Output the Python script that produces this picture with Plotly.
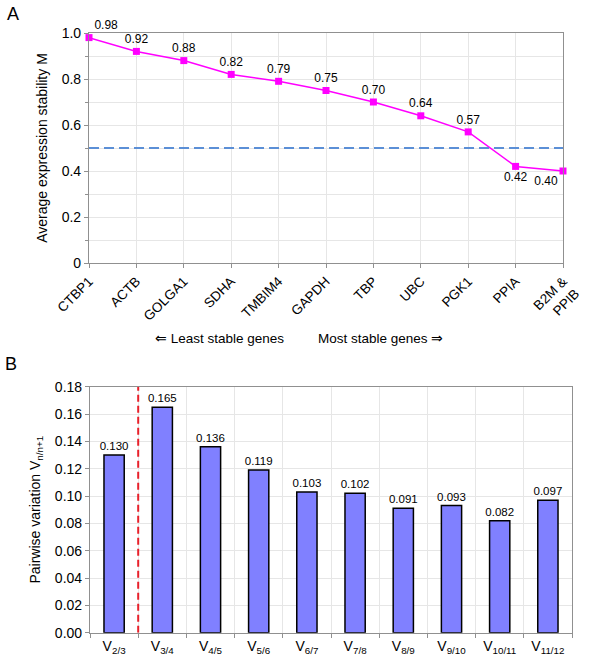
import plotly.graph_objects as go

genes = ["CTBP1", "ACTB", "GOLGA1", "SDHA", "TMBIM4", "GAPDH", "TBP", "UBC", "PGK1", "PPIA", "B2M &<br>PPIB"]
m_values = [0.98, 0.92, 0.88, 0.82, 0.79, 0.75, 0.70, 0.64, 0.57, 0.42, 0.40]
m_threshold = 0.5

pairs = ["V<sub>2/3</sub>", "V<sub>3/4</sub>", "V<sub>4/5</sub>", "V<sub>5/6</sub>", "V<sub>6/7</sub>",
         "V<sub>7/8</sub>", "V<sub>8/9</sub>", "V<sub>9/10</sub>", "V<sub>10/11</sub>", "V<sub>11/12</sub>"]
v_values = [0.130, 0.165, 0.136, 0.119, 0.103, 0.102, 0.091, 0.093, 0.082, 0.097]

FONT = "Liberation Sans, Arial, sans-serif"

fig = go.Figure()

positions = ["top center"] * len(m_values)
positions[0] = "top right"
positions[-2] = "bottom center"
positions[-1] = "bottom left"

fig.add_trace(go.Scatter(
    x=list(range(len(genes))), y=m_values, mode="lines+markers+text",
    line=dict(color="#ff00ff", width=1.5),
    marker=dict(symbol="square", size=7, color="#ff00ff"),
    text=[f"{v:.2f}" for v in m_values], textposition=positions,
    textfont=dict(size=12, color="black", family=FONT),
    cliponaxis=False, xaxis="x", yaxis="y", showlegend=False))

fig.add_trace(go.Scatter(
    x=[0, len(genes) - 1], y=[m_threshold, m_threshold], mode="lines",
    line=dict(color="#5b8fd6", width=2, dash="10px,5px"),
    xaxis="x", yaxis="y", showlegend=False, hoverinfo="skip"))

fig.add_trace(go.Bar(
    x=pairs, y=v_values, width=0.42,
    marker=dict(color="#8080ff", line=dict(color="black", width=1.5)),
    text=[f"{v:.3f}" for v in v_values], textposition="outside", constraintext="none",
    textfont=dict(size=11.5, color="black", family=FONT),
    cliponaxis=False, xaxis="x2", yaxis="y2", showlegend=False))

fig.add_shape(type="line", xref="x2", yref="y2", x0=0.5, x1=0.5, y0=0, y1=0.18,
              line=dict(color="#e8202a", width=2, dash="7px,4px"))

grid = "#e6e6e6"
fig.update_layout(
    width=600, height=662, margin=dict(l=0, r=0, t=0, b=0),
    paper_bgcolor="white", plot_bgcolor="white",
    font=dict(family=FONT, size=13, color="black"),
    xaxis=dict(domain=[89/600, 563/600], anchor="y", range=[0, 10], automargin=False,
               tickvals=list(range(len(genes))), ticktext=genes, tickangle=-45,
               showgrid=True, gridcolor=grid, gridwidth=1,
               showline=True, linecolor="#909090", mirror=True, linewidth=1.2,
               ticks="outside", ticklen=4, tickcolor="#909090",
               tickfont=dict(size=13.5), zeroline=False),
    yaxis=dict(domain=[1 - 263/662, 1 - 33/662], anchor="x", range=[0, 1.0], automargin=False,
               tickvals=[0, 0.2, 0.4, 0.6, 0.8, 1.0],
               ticktext=["0", "0.2", "0.4", "0.6", "0.8", "1.0"],
               showgrid=True, gridcolor=grid,
               minor=dict(dtick=0.1, showgrid=True, gridcolor=grid, ticks="outside", ticklen=3, tickcolor="#909090"),
               showline=True, linecolor="#909090", mirror=True, linewidth=1.2,
               ticks="outside", ticklen=4, tickcolor="#909090",
               tickfont=dict(size=14), zeroline=False,
               title=dict(text="Average expression stability M", font=dict(size=14), standoff=10)),
    xaxis2=dict(domain=[90/600, 572/600], anchor="y2", type="category", automargin=False,
                range=[-0.5, len(pairs) - 0.5], tickson="boundaries",
                showgrid=True, gridcolor=grid,
                showline=True, linecolor="#909090", mirror=True, linewidth=1.2,
                ticks="outside", ticklen=4, tickcolor="#909090",
                tickfont=dict(size=14)),
    yaxis2=dict(domain=[1 - 632.7/662, 1 - 386.7/662], anchor="x2", range=[0, 0.18], automargin=False,
                dtick=0.02, tickformat=".2f",
                showgrid=True, gridcolor=grid,
                showline=True, linecolor="#909090", mirror=True, linewidth=1.2,
                ticks="outside", ticklen=4, tickcolor="#909090",
                tickfont=dict(size=14), zeroline=False,
                title=dict(text="Pairwise variation V<sub>n/n+1</sub>", font=dict(size=14), standoff=10)),
    annotations=[
        dict(text="A", x=5/600, y=1 - 14/662, xref="paper", yref="paper", showarrow=False,
             xanchor="left", yanchor="middle", font=dict(size=18)),
        dict(text="B", x=3/600, y=1 - 364/662, xref="paper", yref="paper", showarrow=False,
             xanchor="left", yanchor="middle", font=dict(size=18)),
        dict(text="⇐ Least stable genes", x=286/600, y=1 - 338/662, xref="paper", yref="paper",
             showarrow=False, xanchor="right", yanchor="middle", font=dict(size=13.5)),
        dict(text="Most stable genes ⇒", x=316/600, y=1 - 338/662, xref="paper", yref="paper",
             showarrow=False, xanchor="left", yanchor="middle", font=dict(size=13.5)),
    ],
)

fig.write_html("out.html", config={"displayModeBar": False},
               post_script="document.body.style.margin='0';document.body.style.overflow='hidden';")
